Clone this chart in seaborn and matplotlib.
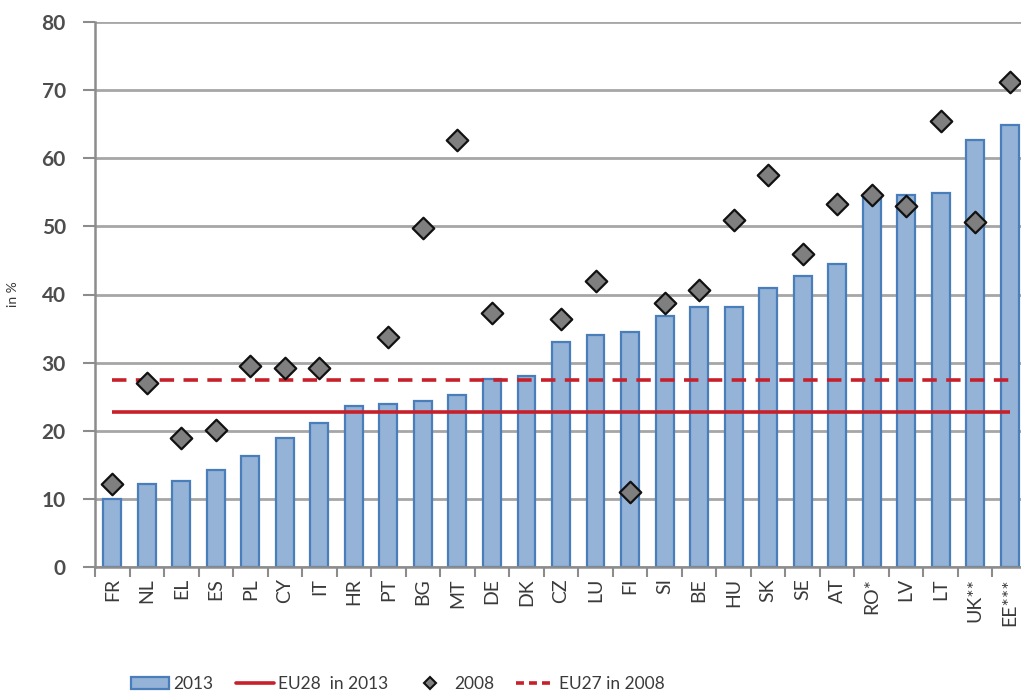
import numpy as np
import pandas as pd
import matplotlib
matplotlib.use("Agg")
import matplotlib.pyplot as plt
import seaborn as sns
from matplotlib.patches import Patch
from matplotlib.lines import Line2D

# Country codes, ordered by 2013 share
countries = ["FR", "NL", "EL", "ES", "PL", "CY", "IT", "HR", "PT", "BG", "MT",
             "DE", "DK", "CZ", "LU", "FI", "SI", "BE", "HU", "SK", "SE", "AT",
             "RO*", "LV", "LT", "UK**", "EE***"]

# Share in 2013 (in %)
share_2013 = [10.0, 12.2, 12.6, 14.3, 16.3, 19.0, 21.1, 23.7, 24.0, 24.4, 25.3,
              27.6, 28.0, 33.1, 34.1, 34.5, 36.9, 38.2, 38.2, 41.0, 42.7, 44.5,
              54.4, 54.6, 54.9, 62.7, 64.9]

# Share in 2008 (in %), no value for HR and DK
share_2008 = [12.2, 27.0, 19.0, 20.1, 29.5, 29.2, 29.2, np.nan, 33.7, 49.7, 62.7,
              37.3, np.nan, 36.4, 42.0, 11.0, 38.8, 40.7, 51.0, 57.6, 46.0, 53.3,
              54.6, 53.0, 65.5, 50.7, 71.2]

eu28_2013 = 22.8
eu27_2008 = 27.4

sns.set_theme(style="white")
plt.rcParams["font.family"] = ["Lato", "DejaVu Sans"]

text_col = "#3a3a3a"
grid_col = "#a6a6a6"
bar_fill = "#95b3d7"
bar_edge = "#4a7ebb"
red = "#c8202a"

df = pd.DataFrame({"country": countries, "y2013": share_2013, "y2008": share_2008})

fig = plt.figure(figsize=(10.21, 7.0), dpi=100)
ax = fig.add_axes([95 / 1021, 1 - 567 / 700, (1027 - 95) / 1021, (567 - 22) / 700])

sns.barplot(data=df, x="country", y="y2013", color=bar_fill, width=0.52,
            edgecolor=bar_edge, linewidth=1.6, saturation=1, ax=ax, zorder=2)

xs = np.arange(len(countries))
ax.plot([xs[0], xs[-1]], [eu28_2013, eu28_2013], color=red, lw=2.6, zorder=3,
        solid_capstyle="butt")
ax.plot([xs[0], xs[-1]], [eu27_2008, eu27_2008], color=red, lw=2.6, zorder=3,
        linestyle=(0, (4, 2.6)))

sns.scatterplot(x=xs, y=df["y2008"], marker="D", s=120, color="#7f7f7f",
                edgecolor="#111111", linewidth=1.6, ax=ax, zorder=4)

ax.set_xlim(-0.5, len(countries) - 0.5)
ax.set_ylim(0, 80)
ax.set_yticks(np.arange(0, 81, 10))
ax.yaxis.grid(True, color=grid_col, lw=2.0, zorder=0)
ax.set_axisbelow(True)

for side in ["top", "right"]:
    ax.spines[side].set_visible(False)
for side in ["left", "bottom"]:
    ax.spines[side].set_color("#8c8c8c")
    ax.spines[side].set_linewidth(1.8)

# category ticks sit between bars, labels under each bar
ax.set_xticks(xs)
ax.set_xticklabels(countries, rotation=90, fontsize=14, color=text_col)
ax.set_xticks(np.arange(-0.5, len(countries), 1), minor=True)
ax.tick_params(axis="x", which="major", length=0, pad=8)
ax.tick_params(axis="x", which="minor", length=7, width=1.5, color="#8c8c8c",
               direction="out", bottom=True)
ax.tick_params(axis="y", length=9, width=1.5, color="#8c8c8c", direction="out",
               left=True, pad=12, labelsize=15, labelcolor="#4d4d4d")
for lbl in ax.get_yticklabels():
    lbl.set_fontweight("bold")

ax.set_xlabel("")
ax.set_ylabel("in %", fontsize=10, color=text_col, labelpad=16)

handles = [
    Patch(facecolor=bar_fill, edgecolor=bar_edge, linewidth=1.6),
    Line2D([], [], color=red, lw=2.6),
    Line2D([], [], marker="D", linestyle="none", markersize=6,
           markerfacecolor="#7f7f7f", markeredgecolor="#111111", markeredgewidth=1.5),
    Line2D([], [], color=red, lw=2.6, linestyle=(0, (2.2, 1.4))),
]
labels = ["2013", "EU28  in 2013", "2008", "EU27 in 2008"]
fig.legend(handles, labels, loc="center left", bbox_to_anchor=(115 / 1021, 1 - 684 / 700),
           ncol=4, frameon=False, fontsize=12.5, handlelength=2.2, handletextpad=0.25,
           columnspacing=1.3, labelcolor=text_col)

fig.savefig("out.png", dpi=100)
